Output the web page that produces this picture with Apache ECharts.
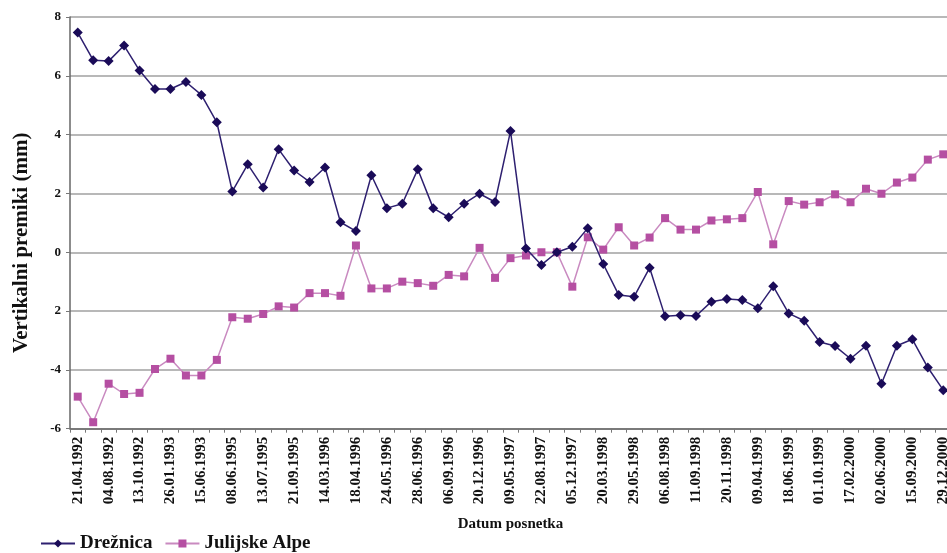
<!DOCTYPE html>
<html>
<head>
<meta charset="utf-8">
<script src="https://cdn.jsdelivr.net/npm/echarts@6.0.0/dist/echarts.min.js"></script>
<style>html,body{margin:0;padding:0;background:#fff;}#c{width:947px;height:553px;}</style>
</head>
<body>
<div id="c"></div>
<script>
const labeledDates = ["21.04.1992","04.08.1992","13.10.1992","26.01.1993","15.06.1993","08.06.1995","13.07.1995","21.09.1995","14.03.1996","18.04.1996","24.05.1996","28.06.1996","06.09.1996","20.12.1996","09.05.1997","22.08.1997","05.12.1997","20.03.1998","29.05.1998","06.08.1998","11.09.1998","20.11.1998","09.04.1999","18.06.1999","01.10.1999","17.02.2000","02.06.2000","15.09.2000","29.12.2000"];
// 57 survey dates; only every second one is labelled in the source
const categories = [];
labeledDates.forEach((d, i) => { categories.push(d); if (i < labeledDates.length - 1) categories.push(""); });

const seriesNames = ["Drežnica", "Julijske Alpe"];
const dreznica = [7.47,6.53,6.50,7.03,6.18,5.55,5.55,5.79,5.35,4.42,2.07,2.99,2.20,3.50,2.78,2.39,2.88,1.02,0.72,2.62,1.50,1.65,2.82,1.50,1.19,1.65,1.99,1.71,4.12,0.13,-0.43,0.0,0.19,0.82,-0.40,-1.45,-1.51,-0.53,-2.18,-2.14,-2.17,-1.68,-1.59,-1.62,-1.90,-1.16,-2.08,-2.33,-3.05,-3.19,-3.62,-3.18,-4.47,-3.18,-2.96,-3.92,-4.69];
const julijskeAlpe = [-4.91,-5.78,-4.47,-4.82,-4.78,-3.97,-3.62,-4.19,-4.19,-3.66,-2.21,-2.26,-2.10,-1.84,-1.88,-1.39,-1.39,-1.48,0.23,-1.23,-1.23,-1.00,-1.05,-1.14,-0.77,-0.82,0.15,-0.87,-0.20,-0.11,0.0,0.0,-1.17,0.51,0.09,0.85,0.23,0.50,1.16,0.77,0.77,1.08,1.12,1.16,2.05,0.27,1.74,1.62,1.70,1.97,1.70,2.16,1.99,2.37,2.54,3.15,3.33];
const yTickLabels = {"-6":"-6","-4":"-4","-2":"2","0":"0","2":"2","4":"4","6":"6","8":"8"};

const FONT = "'Liberation Serif','DejaVu Serif',serif";
const chart = echarts.init(document.getElementById('c'), null, {renderer:'canvas'});
chart.setOption({
  animation: false,
  backgroundColor: '#ffffff',
  grid: {left: 70, top: 17, width: 881, height: 411.7, containLabel: false, outerBoundsMode: 'none'},
  legend: {
    left: 35, top: 529, itemWidth: 34, itemHeight: 10, itemGap: 12,
    textStyle: {fontFamily: FONT, fontWeight: 'bold', fontSize: 19, color: '#111'},
    data: seriesNames
  },
  xAxis: {
    type: 'category', data: categories, boundaryGap: true,
    name: 'Datum posnetka', nameLocation: 'middle', nameGap: 88,
    nameTextStyle: {fontFamily: FONT, fontWeight: 'bold', fontSize: 15, color: '#111'},
    axisLine: {onZero: false, lineStyle: {color: '#666', width: 1.5}},
    axisTick: {show: true, interval: 0, length: 4, lineStyle: {color: '#777'}},
    axisLabel: {interval: 1, rotate: 90, margin: 8, fontFamily: FONT, fontWeight: 'bold', fontSize: 15, color: '#111'},
    splitLine: {show: false}
  },
  yAxis: {
    type: 'value', min: -6, max: 8, interval: 2,
    name: 'Vertikalni premiki (mm)', nameLocation: 'middle', nameGap: 38, nameRotate: 90,
    nameTextStyle: {fontFamily: FONT, fontWeight: 'bold', fontSize: 21, color: '#111', padding: [0, 40, 0, 0]},
    axisLine: {show: true, lineStyle: {color: '#666', width: 1.5}},
    axisTick: {show: true, length: 4, lineStyle: {color: '#777'}},
    axisLabel: {margin: 9, fontFamily: FONT, fontWeight: 'bold', fontSize: 13, color: '#111',
      formatter: v => yTickLabels[String(v)] !== undefined ? yTickLabels[String(v)] : String(v)},
    splitLine: {show: true, lineStyle: {color: '#a0a0a0', width: 1.5}}
  },
  series: [
    {
      name: seriesNames[0], type: 'line', data: dreznica, z: 3,
      symbol: 'diamond', symbolSize: 10, showAllSymbol: true,
      lineStyle: {color: '#2e2070', width: 1.5},
      itemStyle: {color: '#1a0b58', borderWidth: 0}
    },
    {
      name: seriesNames[1], type: 'line', data: julijskeAlpe, z: 2,
      symbol: 'rect', symbolSize: 8, showAllSymbol: true,
      lineStyle: {color: '#c98ac0', width: 1.5},
      itemStyle: {color: '#b54fa2', borderWidth: 0}
    }
  ]
});
</script>
</body>
</html>
